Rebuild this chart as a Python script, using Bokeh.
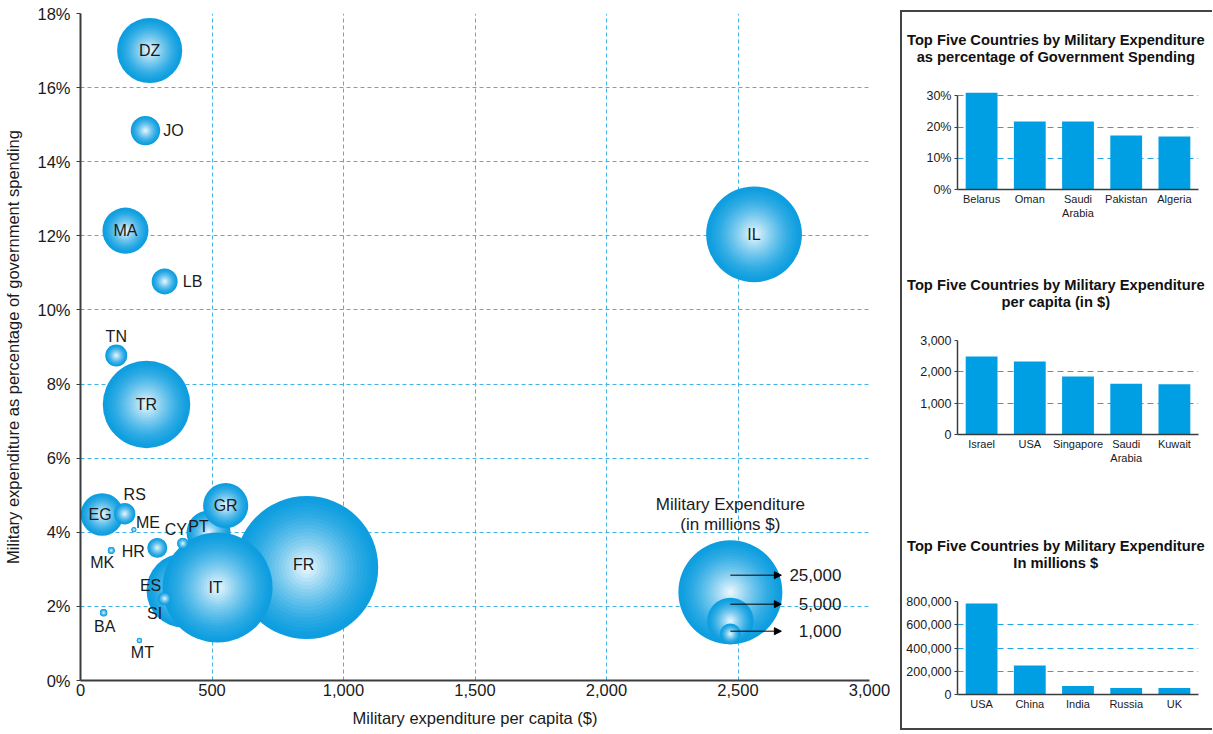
import math
from bokeh.plotting import figure
from bokeh.models import (ColumnDataSource, Range1d, FactorRange, Arrow, NormalHead,
                          NumeralTickFormatter, FixedTicker, Div)
from bokeh.layouts import row, column
from bokeh.embed import file_html
from bokeh.resources import INLINE
from bokeh.core.properties import value

# ---------------- data ----------------
# bubble chart (list order = drawing order)
codes = ["FR", "ES", "PT", "IT", "GR", "IL", "TR", "DZ", "MA", "EG", "JO",
         "LB", "TN", "RS", "HR", "SI", "CY", "ME", "MK", "BA", "MT"]
per_capita = [860, 392, 487, 521, 552, 2561, 251, 263, 171, 82, 247,
              320, 136, 168, 292, 320, 389, 203, 117, 88, 224]
pct_gov = [3.05, 2.43, 3.99, 2.51, 4.72, 12.04, 7.45, 17.0, 12.14, 4.48, 14.84,
           10.77, 8.77, 4.50, 3.58, 2.21, 3.70, 4.07, 3.51, 1.83, 1.08]
expenditure = [47300, 12700, 4500, 28000, 4700, 21200, 17700, 9800, 4900, 4200, 2000,
               1560, 1120, 1060, 920, 415, 300, 58, 113, 127, 67]

x_ticks = [0, 500, 1000, 1500, 2000, 2500, 3000]
y_ticks = [0, 2, 4, 6, 8, 10, 12, 14, 16, 18]
legend_values = [25000, 5000, 1000]
legend_labels = ["25,000", "5,000", "1,000"]

gov_countries = ["Belarus", "Oman", "Saudi\nArabia", "Pakistan", "Algeria"]
gov_pct = [31.0, 21.8, 21.8, 17.3, 17.0]
gov_ticks = [0, 10, 20, 30]

cap_countries = ["Israel", "USA", "Singapore", "Saudi\nArabia", "Kuwait"]
cap_values = [2490, 2330, 1855, 1620, 1600]
cap_ticks = [0, 1000, 2000, 3000]

mil_countries = ["USA", "China", "India", "Russia", "UK"]
mil_values = [783000, 250000, 73500, 55000, 55000]
mil_ticks = [0, 200000, 400000, 600000, 800000]

title_common = "Top Five Countries by Military Expenditure"
title_gov = "as percentage of Government Spending"
title_cap = "per capita (in $)"
title_mil = "In millions $"

# ---------------- styles / layout ----------------
FONT = "Liberation Sans"
TXT = "#1a1a1a"
AXIS = "#3a3d40"
GRID_MAIN = "#45b2e6"
GRID_SMALL = "#22a6e6"
BAR = "#009fe3"
EDGE = (14, 158, 224)
CENTER = (246, 252, 255)
R25 = 52.0          # px radius for 25,000
N_LAYERS = 20

W_MAIN, H_ALL = 900, 733
MBL, MBR, MBT, MBB = 80, 31, 13, 53
FRAME_W = W_MAIN - MBL - MBR
FRAME_H = H_ALL - MBT - MBB
X0, X1, Y0, Y1 = 0, 3000, 0, 18
PPX = FRAME_W / (X1 - X0)
PPY = FRAME_H / (Y1 - Y0)


def radius_px(v):
    return R25 * math.sqrt(v / 25000.0)


def mix(t):
    w = (1.0 - t) ** 1.4
    c = [round(EDGE[k] + w * (CENTER[k] - EDGE[k])) for k in range(3)]
    return "#%02x%02x%02x" % tuple(c)


LAYER_T = [1.0 - k / N_LAYERS for k in range(N_LAYERS)]
LAYER_COLORS = [mix(t) for t in LAYER_T]


def bubble(fig, x, y, r):
    src = ColumnDataSource(dict(
        x=[x] * N_LAYERS, y=[y] * N_LAYERS,
        size=[2 * r * t for t in LAYER_T], color=LAYER_COLORS))
    fig.scatter("x", "y", size="size", fill_color="color", line_color=None,
                source=src)


p = figure(width=W_MAIN, height=H_ALL, x_range=Range1d(X0, X1), y_range=Range1d(Y0, Y1),
           output_backend="svg", toolbar_location=None,
           min_border_left=MBL, min_border_right=MBR, min_border_top=MBT,
           min_border_bottom=MBB)
p.outline_line_color = None
p.background_fill_color = "white"
for g, t in ((p.xgrid, x_ticks), (p.ygrid, y_ticks)):
    g.ticker = FixedTicker(ticks=t)
    g.grid_line_color = GRID_MAIN
    g.grid_line_dash = "4 3"
    g.grid_line_width = 1

p.xaxis.ticker = FixedTicker(ticks=x_ticks)
p.xaxis.formatter = NumeralTickFormatter(format="0,0")
p.yaxis.ticker = FixedTicker(ticks=y_ticks)
p.yaxis.major_label_overrides = {v: f"{v}%" for v in y_ticks}
for ax in (p.xaxis[0], p.yaxis[0]):
    ax.axis_line_color = AXIS
    ax.axis_line_width = 2
    ax.minor_tick_line_color = None
    ax.minor_tick_out = 0
    ax.minor_tick_in = 0
    ax.major_label_text_font = FONT
    ax.major_label_text_font_size = "16.5px"
    ax.major_label_text_color = TXT
    ax.axis_label_text_font = FONT
    ax.axis_label_text_font_size = "16.5px"
    ax.axis_label_text_font_style = "normal"
    ax.axis_label_text_color = TXT
p.xaxis.major_tick_line_color = None
p.xaxis.major_tick_out = 0
p.xaxis.major_tick_in = 0
p.xaxis.major_label_standoff = 3
p.xaxis.axis_label_standoff = 10
p.xaxis.axis_label = "Military expenditure per capita ($)"
p.yaxis.major_tick_line_color = AXIS
p.yaxis.major_tick_out = 4
p.yaxis.major_tick_in = 0
p.yaxis.major_label_standoff = 6
p.yaxis.axis_label_standoff = 12
p.yaxis.axis_label = "Military expenditure as percentage of government spending"

for xv, yv, v in zip(per_capita, pct_gov, expenditure):
    bubble(p, xv, yv, radius_px(v))

# label offsets (screen px)
label_off = {"FR": (-3, -3), "ES": (-33, -5), "PT": (-10, -6), "IT": (-2, 0),
             "GR": (0, 0), "IL": (0, 0), "TR": (0, 0), "DZ": (0, 0), "MA": (0, 0),
             "EG": (-2, 0), "JO": (28, 0), "LB": (28, 0), "TN": (0, -19),
             "RS": (10, -19), "HR": (-24, 4), "SI": (-10, 15), "CY": (-7, -14),
             "ME": (14, -7), "MK": (-9, 12), "BA": (1, 14), "MT": (3, 12)}
lab_src = ColumnDataSource(dict(
    x=per_capita, y=pct_gov, text=codes,
    xo=[label_off[c][0] for c in codes], yo=[label_off[c][1] for c in codes]))
p.text("x", "y", text="text", x_offset="xo", y_offset="yo", source=lab_src,
       text_align="center", text_baseline="middle", text_font=value(FONT),
       text_font_size="16px", text_color=TXT)

# size legend
LEG_X = 2471
LEG_BASE = 0.98
arrow_off_px = [69, 40, 13]
for v in legend_values:
    r = radius_px(v)
    bubble(p, LEG_X, LEG_BASE + r / PPY, r)
arr_y = [LEG_BASE + o / PPY for o in arrow_off_px]
for ay in arr_y:
    p.add_layout(Arrow(end=NormalHead(size=7, fill_color="black", line_color="black"),
                       x_start=LEG_X, y_start=ay, x_end=LEG_X + 51 / PPX, y_end=ay,
                       line_color="black", line_width=1))
p.text(x=[LEG_X + 111 / PPX] * 3, y=arr_y, text=legend_labels, text_align="right",
       text_baseline="middle", text_font=value(FONT), text_font_size="17px",
       text_color=TXT)
p.text(x=[LEG_X] * 2, y=[LEG_BASE + (140 - 20 * k) / PPY for k in range(2)],
       text=["Military Expenditure", "(in millions $)"],
       text_align="center", text_baseline="middle", text_font=value(FONT),
       text_font_size="17px", text_color=TXT)


# ---------------- small bar charts ----------------
PANEL_W = 310


def title_div(lines, h, pad):
    html = ('<div style="padding-top:%dpx;padding-left:5px;text-align:center;'
            'font-family:\'Liberation Sans\',Arial,sans-serif;font-size:14.7px;'
            'font-weight:bold;line-height:16.5px;color:#111111;white-space:nowrap;">'
            '%s</div>') % (pad, "<br>".join(lines))
    return Div(text=html, width=PANEL_W, height=h, margin=(0, 0, 0, 0))


def bar_chart(cats, vals, ticks, fmt, y_top, h, mbt, mbb, mbl, mbr):
    f = figure(width=PANEL_W, height=h, x_range=FactorRange(*cats),
               y_range=Range1d(0, y_top), output_backend="svg", toolbar_location=None,
               min_border_top=mbt, min_border_bottom=mbb, min_border_left=mbl,
               min_border_right=mbr)
    f.outline_line_color = None
    f.vbar(x=cats, top=vals, width=0.66, fill_color=BAR, line_color=None)
    f.xgrid.grid_line_color = None
    f.ygrid.ticker = FixedTicker(ticks=ticks)
    f.ygrid.grid_line_color = GRID_SMALL
    f.ygrid.grid_line_dash = "6 4"
    f.ygrid.grid_line_width = 1.2
    xa, ya = f.xaxis[0], f.yaxis[0]
    xa.axis_line_color = AXIS
    xa.axis_line_width = 1.5
    xa.major_tick_line_color = None
    xa.major_tick_out = 0
    xa.minor_tick_line_color = None
    xa.major_label_text_font = FONT
    xa.major_label_text_font_size = "11px"
    xa.major_label_text_color = TXT
    xa.major_label_standoff = 3
    ya.ticker = FixedTicker(ticks=ticks)
    ya.bounds = (0, ticks[-1])
    ya.axis_line_color = AXIS
    ya.axis_line_width = 1.5
    ya.major_tick_line_color = AXIS
    ya.major_tick_out = 3
    ya.major_tick_in = 0
    ya.minor_tick_line_color = None
    ya.major_label_text_font = FONT
    ya.major_label_text_font_size = "12.5px"
    ya.major_label_text_color = TXT
    ya.major_label_standoff = 3
    if fmt == "pct":
        ya.major_label_overrides = {v: f"{v}%" for v in ticks}
    else:
        ya.formatter = NumeralTickFormatter(format="0,0")
    return f


d1 = title_div([title_common, title_gov], 62, 20)
f1 = bar_chart(gov_countries, gov_pct, gov_ticks, "pct", 32, 178, 15, 63, 45, 14)
d2 = title_div([title_common, title_cap], 80, 25)
f2 = bar_chart(cap_countries, cap_values, cap_ticks, "num", 3000, 180, 8, 78, 47, 13)
d3 = title_div([title_common, title_mil], 78, 26)
f3 = bar_chart(mil_countries, mil_values, mil_ticks, "num", 800000, 138, 11, 34, 55, 5)

right = column(d1, f1, d2, f2, d3, f3, margin=(10, 0, 0, 0),
               styles={"border-top": "2px solid #444444",
                       "border-left": "2px solid #444444",
                       "border-bottom": "2px solid #444444"})
layout = row(p, right)

open("out.html", "w").write(file_html(layout, INLINE))
